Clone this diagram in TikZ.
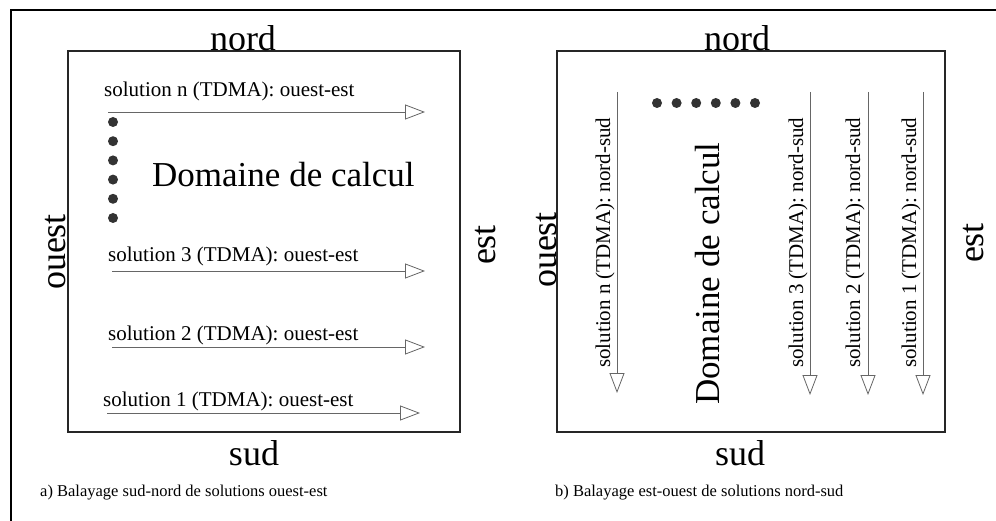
\documentclass[tikz,border=0pt]{standalone}
\usepackage{fontspec}
\setmainfont{Liberation Serif}
\usetikzlibrary{arrows.meta}
\begin{document}
\begin{tikzpicture}[x=1bp,y=1bp,
  frameline/.style={line width=2bp, black},
  boxline/.style={draw=black!85, line width=1.3bp, inner sep=0pt, fill=none},
  sol/.style={line width=0.8bp, black!60, -{Triangle[open, length=20bp, width=15bp, line width=0.8bp]}},
  big/.style={font=\fontsize{36bp}{40bp}\selectfont, inner sep=0pt},
  dom/.style={font=\fontsize{35bp}{40bp}\selectfont, inner sep=0pt},
  lab/.style={font=\fontsize{21bp}{24bp}\selectfont, inner sep=0pt},
  captext/.style={font=\fontsize{16.5bp}{20bp}\selectfont, inner sep=0pt},
  dotmark/.style={circle, fill=black!80, minimum size=10bp, inner sep=0pt},
]
\useasboundingbox (0,0) rectangle (996,-521);
% outer frame (top and left only)
\coordinate (fTL) at (11,-10);
\coordinate (fTR) at (996,-10);
\coordinate (fBL) at (11,-521);
\draw[frameline] (fTR) -- (fTL) -- (fBL);

% ---------- panel a ----------
\node[boxline, minimum width=392bp, minimum height=381bp] (boxA) at (264,-241.5) {};
\node[big, anchor=base] (nordA) at (243,-51) {nord};
\node[big, anchor=base] (sudA) at (254,-465) {sud};
\node[big, anchor=base, rotate=90] (ouestA) at (65,-252) {ouest};
\node[big, anchor=base, rotate=90] (estA) at (495,-245) {est};
\node[dom, anchor=base west] (domA) at (152,-187) {Domaine de calcul};
\foreach \k in {0,...,5} {
  \node[dotmark] (dA\k) at (113,{-122-19.2*\k}) {};
}
% arrows
\node[lab, anchor=base west] (tAn) at (104,-97) {solution n (TDMA): ouest-est};
\coordinate (aAns) at (108,-112); \coordinate (aAne) at (425,-112);
\draw[sol] (aAns) -- (aAne);
\node[lab, anchor=base west] (tA3) at (108,-262) {solution 3 (TDMA): ouest-est};
\coordinate (aA3s) at (112,-271); \coordinate (aA3e) at (425,-271);
\draw[sol] (aA3s) -- (aA3e);
\node[lab, anchor=base west] (tA2) at (108,-341) {solution 2 (TDMA): ouest-est};
\coordinate (aA2s) at (112,-347); \coordinate (aA2e) at (425,-347);
\draw[sol] (aA2s) -- (aA2e);
\node[lab, anchor=base west] (tA1) at (103,-406) {solution 1 (TDMA): ouest-est};
\coordinate (aA1s) at (107,-413); \coordinate (aA1e) at (420,-413);
\draw[sol] (aA1s) -- (aA1e);
\node[captext, anchor=base west] (capA) at (40,-496) {a) Balayage sud-nord de solutions ouest-est};

% ---------- panel b ----------
\node[boxline, minimum width=388bp, minimum height=381bp] (boxB) at (751,-241.5) {};
\node[big, anchor=base] (nordB) at (737,-51) {nord};
\node[big, anchor=base] (sudB) at (740,-465) {sud};
\node[big, anchor=base, rotate=90] (ouestB) at (556,-250) {ouest};
\node[big, anchor=base, rotate=90] (estB) at (983,-243) {est};
\node[dom, anchor=base west, rotate=90] (domB) at (719,-405) {Domaine de calcul};
\foreach \k in {0,...,5} {
  \node[dotmark] (dB\k) at ({657+19.6*\k},-103) {};
}
\node[lab, anchor=base west, rotate=90] (tBn) at (610,-368) {solution n (TDMA): nord-sud};
\coordinate (aBns) at (617,-92); \coordinate (aBne) at (617,-393);
\draw[sol] (aBns) -- (aBne);
\node[lab, anchor=base west, rotate=90] (tB3) at (803,-368) {solution 3 (TDMA): nord-sud};
\coordinate (aB3s) at (810,-92); \coordinate (aB3e) at (810,-395);
\draw[sol] (aB3s) -- (aB3e);
\node[lab, anchor=base west, rotate=90] (tB2) at (860,-368) {solution 2 (TDMA): nord-sud};
\coordinate (aB2s) at (868,-92); \coordinate (aB2e) at (868,-395);
\draw[sol] (aB2s) -- (aB2e);
\node[lab, anchor=base west, rotate=90] (tB1) at (916,-368) {solution 1 (TDMA): nord-sud};
\coordinate (aB1s) at (923,-92); \coordinate (aB1e) at (923,-395);
\draw[sol] (aB1s) -- (aB1e);
\node[captext, anchor=base west] (capB) at (555,-496) {b) Balayage est-ouest de solutions nord-sud};
\end{tikzpicture}
\end{document}
